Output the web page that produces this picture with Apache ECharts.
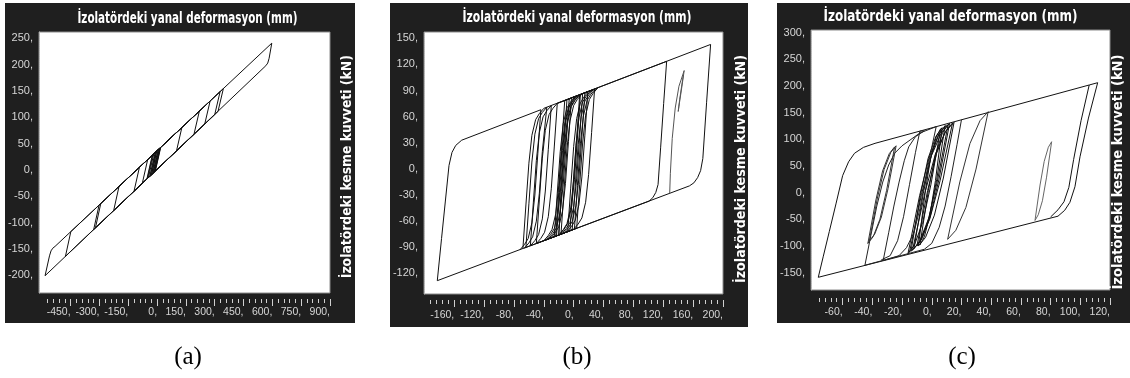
<!DOCTYPE html>
<html><head><meta charset="utf-8">
<script src="https://cdn.jsdelivr.net/npm/echarts@6/dist/echarts.min.js"></script>
<style>html,body{margin:0;padding:0;background:#fff}#c{width:1130px;height:378px}</style>
</head><body><div id="c"></div><script>
// ---------- texts ----------
const xTitle = 'İzolatördeki yanal deformasyon (mm)';
const yTitle = 'İzolatördeki kesme kuvveti (kN)';
const captions = ['(a)', '(b)', '(c)'];

// ---------- tick labels ----------
const aXTicks = [-450, -300, -150, 0, 150, 300, 450, 600, 750, 900];
const aYTicks = [-200, -150, -100, -50, 0, 50, 100, 150, 200, 250];
const bXTicks = [-160, -120, -80, -40, 0, 40, 80, 120, 160, 200];
const bYTicks = [-120, -90, -60, -30, 0, 30, 60, 90, 120, 150];
const cXTicks = [-60, -40, -20, 0, 20, 40, 60, 80, 100, 120];
const cYTicks = [-150, -100, -50, 0, 50, 100, 150, 200, 250, 300];

// ---------- panel (a): displacement (mm), force (kN) ----------
const aPath = [[19,43.1],[-9,-1.9],[-45,-14.3],[-17,30.8],[12,40.7],[-16,-4.3],[-38,-11.9],[-10,33.2],[5,38.3],[-23,-6.7],[-50,-16.1],[-22,29.1],[15,41.7],[-13,-3.3],[-30,-9.1],[-2,35.9],[0,36.6],[-28,-8.5],[-53,-17.1],[-25,28.1],[8,39.3],[-20,-5.7],[-35,-10.9],[-7,34.2],[17,42.4],[-11,-2.6],
 [-77,-25.4],[-49,19.8],[129,80.7],[101,36.2],[-120,-40.3],[-92,5.1],[220,111.8],[192,67.8],[-226,-77.0],[-198,-31.1],[276,131.0],[248,87.2],[-321,-109.9],[-293,-63.6],[328,148.8],[300,105.2],[-330,-113.1],[-302,-66.7],[345,154.6],[317,111.1],[-477,-164.0],[-449,-117.0],
 [597,240.8],[583,212],[576,203],[566,198],[-583,-200.7],[-560,-163],[-552,-153.5],[-543,-148.5],[-531,-145],[100,70.8]];

// ---------- panel (b) ----------
const bOuter = [[-68,-91.4],[-64,-41.4],[-60,6.6],[-56,38.6],[-51,56.6],[-46,63.6],[-40,69.6],
 [124.5,123.6],[120.5,75],[116.5,25],[113,-18],[110,-27],[106,-33],[101,-37],
 [-50,-85.6],[-46,-35.6],[-42,12.4],[-38,44.4],[-33,62.4],[-28,69.4],[-22,75.4],
 [183.4,143],[178,76],[173,12],[170,-2],[166,-10],[161,-16],[155,-19.5],
 [-182.7,-128.4],[-177,-80],[-172,-38],[-167,4],[-163,19],[-158,27],[-150,33],
 [-44,68],[-48,18],[-52,-30],[-56,-62],[-61,-80],[-66,-87],[-72,-93]];
const bCenter = [[-64,-90.1],[-60,-40.1],[-56,7.9],[-52,39.9],[-47,57.9],[-42,64.9],[-36,70.9],
 [-38,70],[-42,20],[-46,-28],[-50,-60],[-55,-78],[-60,-85],[-66,-91],
 [-58,-88.2],[-54,-38.2],[-50,9.8],[-46,41.8],[-41,59.8],[-36,66.8],[-30,72.8],
 [-34,22.6],[-38,-25.4],[-42,-57.4],[-47,-75.4],[-52,-82.4],[-58,-88.4],
 [-26,-77.9],[-22,-27.9],[-18,20.1],[-14,52.1],[-9,70.1],[-4,77.1],[2,83.1],
 [28,91.7],[24,41.7],[20,-6.3],[16,-38.3],[11,-56.3],[6,-63.3],[0,-69.3],
 [-23,-76.9],[-19,-26.9],[-15,21.1],[-11,53.1],[-6,71.1],[-1,78.1],[5,84.1],
 [-22,75.2],[-26,25.2],[-30,-22.8],[-34,-54.8],[-39,-72.8],[-44,-79.8],[-50,-85.8],
 [-20,-76],[-16,-26],[-12,22],[-8,54],[-3,72],[2,79],[8,85],
 [19,88.8],[15,38.8],[11,-9.2],[7,-41.2],[2,-59.2],[-3,-66.2],[-9,-72.2],
 [-17,-75],[-13,-25],[-9,23],[-5,55],[0,73],[5,80],[11,86],
 [-12,78.5],[-16,28.5],[-20,-19.5],[-24,-51.5],[-29,-69.5],[-34,-76.5],[-40,-82.5],
 [-5,-71.1],[-1,-21.1],[3,26.9],[7,58.9],[12,76.9],[17,83.9],[23,89.9],
 [15,87.5],[11,37.5],[7,-10.5],[3,-42.5],[-2,-60.5],[-7,-67.5],[-13,-73.5],
 [-2,-70.1],[2,-20.1],[6,27.9],[10,59.9],[15,77.9],[20,84.9],[26,90.9],
 [-9,79.5],[-13,29.5],[-17,-18.5],[-21,-50.5],[-26,-68.5],[-31,-75.5],[-37,-81.5],
 [1,-69.2],[5,-19.2],[9,28.8],[13,60.8],[18,78.8],[23,85.8],[29,91.8],
 [12,86.5],[8,36.5],[4,-11.5],[0,-43.5],[-5,-61.5],[-10,-68.5],[-16,-74.5],
 [4,-68.2],[8,-18.2],[12,29.8],[16,61.8],[21,79.8],[26,86.8],[32,92.8],
 [9,85.5],[5,35.5],[1,-12.5],[-3,-44.5],[-8,-62.5],[-13,-69.5],[-19,-75.5],
 [-24,-77.2],[-20,-27.2],[-16,20.8],[-12,52.8],[-7,70.8],[-2,77.8],[4,83.8],
 [-6,80.5],[-10,30.5],[-14,-17.5],[-18,-49.5],[-23,-67.5],[-28,-74.5],[-34,-80.5],
 [-8,-72.1],[-4,-22.1],[0,25.9],[4,57.9],[9,75.9],[14,82.9],[20,88.9],
 [8,85.1],[4,35.1],[0,-12.9],[-4,-44.9],[-9,-62.9],[-14,-69.9],[-20,-75.9],
 [-21,-76.3],[-17,-26.3],[-13,21.7],[-9,53.7],[-4,71.7],[1,78.7],[7,84.7],
 [-3,81.5],[-7,31.5],[-11,-16.5],[-15,-48.5],[-20,-66.5],[-25,-73.5],[-31,-79.5]];
const bEnd = [[128.6,-28],[129.5,-5],[132,35],[136,70],[141,95],[148,113],[145,95],[141,72],[140,66],[142,80],[146,103],[147,108]];

// ---------- panel (c) ----------
const cOuter = [[80,-45.5],[85,-32],[89,-17],[92.3,10],[95.5,62],[100.5,135],[106,202],[111.7,206.3],[105.5,140],[99.8,67.3],[96.4,11.2],[93,-18],[89.5,-33],[85,-44],
 [-76.4,-158.6],[-73,-119],[-69,-73],[-64.5,-21],[-60,32],[-56,58],[-52,74],[-46,85],[-38.2,92.6],[106,202]];
const cCenter = [[-15,-112],[-6.9,-3.1],[-0.2,69.5],[6.6,113.1],[12,130],
 [4.8,24.3],[-1.2,-46.3],[-7.2,-88.6],[-12,-105],
 [-5.7,-1],[-0.5,68.3],[4.8,109.8],[9,126],
 [3.3,24.3],[-1.5,-43.5],[-6.2,-84.2],[-10,-100],
 [-2.8,4],[3.2,73.3],[9.2,114.8],[14,131],
 [5.6,22.5],[-1.4,-49.8],[-8.4,-93.1],[-14,-110],
 [-7.7,-5.6],[-2.5,64],[2.8,105.8],[7,122],
 [2.5,23],[-1.3,-43],[-5,-82.6],[-8,-98],
 [-2.3,3.7],[2.5,71.5],[7.2,112.2],[11,128],
 [3.8,21.8],[-2.2,-49],[-8.2,-91.5],[-13,-108],
 [-4.6,0],[2.4,72],[9.4,115.2],[15,132],
 [7.8,27.6],[1.8,-42],[-4.2,-83.8],[-9,-100],
 [-4.5,-1],[-0.8,65],[3,104.6],[6,120],
 [-0.6,14.7],[-6.1,-55.5],[-11.6,-97.6],[-16,-114],
 [-8.2,-5.6],[-1.7,66.8],[4.8,110.1],[10,127]];
const cBand = [[20,136.8],[17,90],[13,30],[9,-25],[5,-65],[0,-95],[-5,-106],
 [-45,-136],[-41,-80],[-37,-25],[-33,20],[-29,52],[-25,74],[-20,88],[-14,100],[-8,112],
 [3,123.9],[0,85],[-4,30],[-8,-30],[-12,-75],[-17,-103],[-22,-118],
 [-32.7,-127],[-29,-75],[-25.5,-25],[-22,20],[-18.5,60],[-15.5,86],[-11,105],[-5,116],
 [-8,115.5],[-11,75],[-15,15],[-19,-45],[-23,-90],[-28,-118],[-34,-126]];
const cLeft = [[-43,-95],[-37.6,-13.5],[-33.1,40.8],[-28.6,73.3],[-25,86],[-30.4,4.5],[-34.9,-49.8],[-39.4,-82.3],[-43,-95],
 [-42,-90],[-36.6,-9.9],[-32.1,43.5],[-27.6,75.5],[-24,88],[-29.4,7.9],[-33.9,-45.5],[-38.4,-77.5],[-42,-90]];
const cRight = [[10.7,-87.4],[18.9,20.3],[25.7,92.1],[32.5,135.1],[38,152],[29.8,44.3],[23,-27.5],[16.2,-70.5],[10.7,-87.4]];
const cSliver = [[69.5,-52],[72.9,14.4],[75.7,58.7],[78.5,85.3],[80.7,95.6],[77.3,29.2],[74.5,-15.1],[71.7,-41.3],[69.5,-52]];

// ---------- layout / style ----------
const FONT = '"Liberation Sans",Arial,sans-serif';
const TFAM = '"DejaVu Sans Condensed","DejaVu Sans",sans-serif';
const LABEL = '#d6d6d6';
const DARK = '#1f1f1f';
function steps(a, b, s) { const r = []; for (let v = a; v <= b + 1e-9; v += s) r.push(+v.toFixed(6)); return r; }
function fit(text, font, target) {
  const ctx = document.createElement('canvas').getContext('2d');
  ctx.font = font; return target / ctx.measureText(text).width;
}
const panels = [
  {box:[5,3,350,320], grid:[39,32,291,261], xr:[-614.6,900], yr:[-233.5,262], xt:aXTicks, xm:[-570,900,30], yt:aYTicks, off:6, lm:8,
   title:[187.5,19,220], vt:[347,166.7,223], cap:[188,357],
   series:[{d:aPath,c:'#111'}]},
  {box:[390,3,358,324], grid:[424,32,299,262], xr:[-200.5,200], yr:[-143.7,157.3], xt:bXTicks, xm:[-192,200,8], yt:bYTicks, off:6, lm:10,
   title:[577,18.3,229], vt:[741.7,169,228], cap:[577,357],
   series:[{d:bOuter,c:'#111'},{d:bCenter,c:'#111'},{d:bEnd,c:'#555'}]},
  {box:[777,3,353,320], grid:[811,30,299,260], xr:[-81.3,120], yr:[-182.4,305.1], xt:cXTicks, xm:[-76,120,4], yt:cYTicks, off:8, lm:9,
   title:[950.5,16.7,254], vt:[1118,172,235], cap:[962,357],
   series:[{d:cOuter,c:'#111'},{d:cCenter,c:'#111'},{d:cBand,c:'#222'},{d:cLeft,c:'#333'},{d:cRight,c:'#333'},{d:cSliver,c:'#666'}]}
];

const option = {animation:false, grid:[], xAxis:[], yAxis:[], series:[], graphic:[]};
const TFONT = 'bold 15px ' + TFAM;
const VFONT = 'bold 14px ' + TFAM;
panels.forEach((p, i) => {
  option.graphic.push({type:'rect', z:-10, silent:true, shape:{x:p.box[0], y:p.box[1], width:p.box[2], height:p.box[3]}, style:{fill:DARK}});
  option.graphic.push({type:'text', z:10, x:p.title[0], y:p.title[1], scaleX:fit(xTitle, TFONT, p.title[2]),
    style:{text:xTitle, font:TFONT, fill:'#fff', textAlign:'center', textVerticalAlign:'middle'}});
  option.graphic.push({type:'text', z:10, x:p.vt[0], y:p.vt[1], rotation:Math.PI/2, scaleX:fit(yTitle, VFONT, p.vt[2]),
    style:{text:yTitle, font:VFONT, fill:'#fff', textAlign:'center', textVerticalAlign:'middle'}});
  option.graphic.push({type:'text', z:10, x:p.cap[0], y:p.cap[1],
    style:{text:captions[i], font:'25px "Liberation Serif","Times New Roman",serif', fill:'#000', textAlign:'center', textVerticalAlign:'middle'}});
  option.grid.push({left:p.grid[0], top:p.grid[1], width:p.grid[2], height:p.grid[3], show:true, backgroundColor:'#fff',
    borderColor:'#8c8c8c', borderWidth:1, containLabel:false, outerBoundsMode:'none'});
  const common = {type:'value', gridIndex:i, min:p.xr[0], max:p.xr[1], position:'bottom', offset:p.off,
    splitLine:{show:false}, axisLine:{show:false, onZero:false}};
  option.xAxis.push(Object.assign({}, common, {
    axisTick:{show:true, customValues:p.xt, length:7, lineStyle:{color:'#d0d0d0'}},
    axisLabel:{show:true, customValues:p.xt, formatter:v => v + ',', align:'right', color:LABEL, fontFamily:FONT, fontSize:10.5, margin:p.lm}}));
  option.xAxis.push(Object.assign({}, common, {
    axisTick:{show:true, customValues:steps(p.xm[0], p.xm[1], p.xm[2]), length:4, lineStyle:{color:'#d0d0d0'}},
    axisLabel:{show:false}}));
  option.yAxis.push({type:'value', gridIndex:i, min:p.yr[0], max:p.yr[1], position:'left',
    splitLine:{show:false}, axisLine:{show:true, onZero:false, lineStyle:{color:'#b4b4b4', type:'dotted'}},
    axisTick:{show:false},
    axisLabel:{show:true, customValues:p.yt, formatter:v => v + ',', color:LABEL, fontFamily:FONT, fontSize:11, margin:6}});
  p.series.forEach(s => option.series.push({type:'line', xAxisIndex:2*i, yAxisIndex:i, data:s.d, showSymbol:false, symbol:'none',
    silent:true, z:3, lineStyle:{color:s.c, width:1}}));
});
const chart = echarts.init(document.getElementById('c'), null, {renderer:'canvas'});
chart.setOption(option);
</script></body></html>
